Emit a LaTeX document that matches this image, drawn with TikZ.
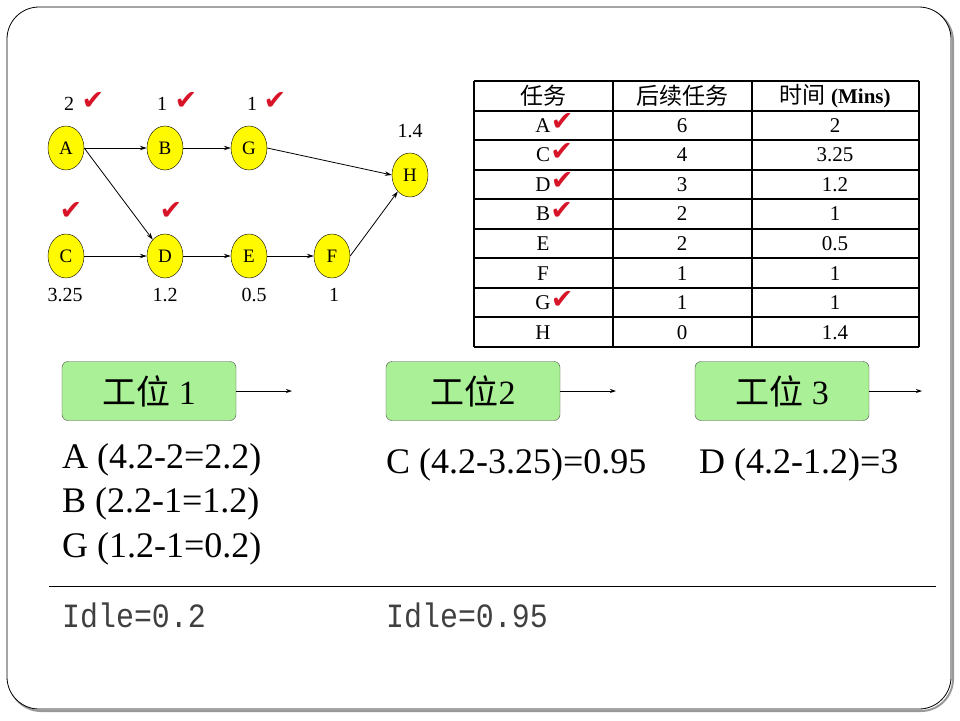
\documentclass[tikz,border=0pt]{standalone}
\usepackage{fontspec}
\setmainfont{Liberation Serif}
\newfontfamily\cjk{Noto Sans CJK SC}
\newfontfamily\symb{DejaVu Sans}
\newfontfamily\idlefont[FakeStretch=0.88]{Liberation Mono}
\usetikzlibrary{shapes.geometric,arrows.meta,positioning}

\definecolor{giallonodo}{RGB}{255,250,0}
\definecolor{verdebox}{RGB}{170,240,150}
\definecolor{rossospunta}{RGB}{215,20,40}
\newcommand{\spunta}{{\symb\color{rossospunta}✔}}

\tikzset{
  task/.style={ellipse, draw=black, fill=giallonodo, minimum width=36pt, minimum height=44pt,
    inner sep=0pt, font=\fontsize{19}{19}\selectfont},
  etich/.style={inner sep=0pt, font=\fontsize{20}{20}\selectfont},
  spuntanodo/.style={inner sep=0pt, font=\fontsize{27}{27}\selectfont},
  freccia/.style={-{Stealth[length=7pt,width=4.5pt]}, line width=0.8pt},
  stazione/.style={draw=black!70, fill=verdebox, rounded corners=6pt, minimum width=174pt,
    minimum height=59pt, inner sep=0pt, font=\fontsize{34}{34}\selectfont},
  testo/.style={anchor=base west, inner sep=0pt, font=\fontsize{36}{36}\selectfont},
  idle/.style={anchor=base west, inner sep=0pt, text=black!75, font=\idlefont\fontsize{34}{34}\selectfont},
  cella/.style={inner sep=0pt, font=\fontsize{21}{21}\selectfont},
  testata/.style={inner sep=0pt, font=\fontsize{23}{23}\selectfont}
}

\begin{document}
\begin{tikzpicture}[x=1pt,y=-1pt]
    \useasboundingbox (0,0) rectangle (960,720);
    % Cornice con ombra
    \draw[black!40, line width=2pt, rounded corners=32pt] (9,9) rectangle (953,711);
    \draw[fill=white, line width=0.8pt, rounded corners=32pt] (7,7) rectangle (951,709);

    % Grafo delle precedenze
    \node[task] (A) at (66,148) {A};
    \node[task] (B) at (165,148) {B};
    \node[task] (G) at (249,148) {G};
    \node[task] (H) at (410,175) {H};
    \node[task] (C) at (66,256) {C};
    \node[task] (D) at (165,256) {D};
    \node[task] (E) at (249,256) {E};
    \node[task] (F) at (332,256) {F};

    \draw[freccia] (A.east) -- (B.west);
    \draw[freccia] (B.east) -- (G.west);
    \draw[freccia] (G.east) -- (H.west);
    \draw[freccia] (A.east) -- (D);
    \draw[freccia] (C.east) -- (D.west);
    \draw[freccia] (D.east) -- (E.west);
    \draw[freccia] (E.east) -- (F.west);
    \draw[freccia] (F.east) -- (H);

    % Tempi e spunte
    \node[etich] (tA) at (69,104) {2};
    \node[etich] (tB) at (162,104) {1};
    \node[etich] (tG) at (252,104) {1};
    \node[etich] (tH) at (410,131) {1.4};
    \node[etich] (tC) at (65,295) {3.25};
    \node[etich] (tD) at (165,295) {1.2};
    \node[etich] (tE) at (254,295) {0.5};
    \node[etich] (tF) at (334,295) {1};
    \node[spuntanodo] (cA) at (93,101) {\spunta};
    \node[spuntanodo] (cB) at (186,101) {\spunta};
    \node[spuntanodo] (cG) at (275,101) {\spunta};
    \node[spuntanodo] (cC) at (71,211) {\spunta};
    \node[spuntanodo] (cD) at (171,211) {\spunta};

    % Tabella
    \foreach \k in {0,...,9}
        \draw[line width=2pt] (474,81+29.56*\k) -- (919,81+29.56*\k);
    \foreach \xx in {474,613,752,919}
        \draw[line width=2.5pt] (\xx,81) -- (\xx,347);
    \node[testata] (h1) at (543,96) {\cjk 任务};
    \node[testata] (h2) at (682,96) {\cjk 后续任务};
    \node[testata] (h3) at (835,96) {{\cjk 时间} {\fontsize{21}{21}\selectfont\textbf{(Mins)}}};
    \foreach \lett/\succ/\tempo/\ok [count=\i] in {A/6/2/1, C/4/3.25/1, D/3/1.2/1, B/2/1/1,
        E/2/0.5/0, F/1/1/0, G/1/1/1, H/0/1.4/0} {
        \node[cella] (r\i a) at (543,81+29.56*\i+14.8) {\lett};
        \node[cella] (r\i b) at (682,81+29.56*\i+14.8) {\succ};
        \node[cella] (r\i c) at (835,81+29.56*\i+14.8) {\tempo};
        \ifnum\ok=1
            \node[spuntanodo, anchor=west] (r\i s) at ([xshift=0pt,yshift=3pt]r\i a.east) {\spunta};
        \fi
    }

    % Stazioni
    \node[stazione] (s1) at (149,391) {{\cjk 工位} 1};
    \node[stazione] (s2) at (473,391) {{\cjk 工位}2};
    \node[stazione] (s3) at (782,391) {{\cjk 工位} 3};
    \coordinate (e1) at (292,391);
    \coordinate (e2) at (616,391);
    \coordinate (e3) at (922,391);
    \draw[freccia, -{Stealth[length=6pt,width=4pt]}] (s1.east) -- (e1);
    \draw[freccia, -{Stealth[length=6pt,width=4pt]}] (s2.east) -- (e2);
    \draw[freccia, -{Stealth[length=6pt,width=4pt]}] (s3.east) -- (e3);

    % Calcoli
    \node[testo] (a1) at (62,468) {A (4.2-2=2.2)};
    \node[testo] (a2) at (62,512) {B (2.2-1=1.2)};
    \node[testo] (a3) at (62,557) {G (1.2-1=0.2)};
    \node[testo] (b1) at (386,473) {C (4.2-3.25)=0.95};
    \node[testo] (c1) at (699,473) {D (4.2-1.2)=3};

    % Linea e tempi morti
    \draw[line width=1pt] (49,586) -- (936,586);
    \node[idle] (i1) at (62,627) {Idle=0.2};
    \node[idle] (i2) at (386,627) {Idle=0.95};
\end{tikzpicture}
\end{document}
